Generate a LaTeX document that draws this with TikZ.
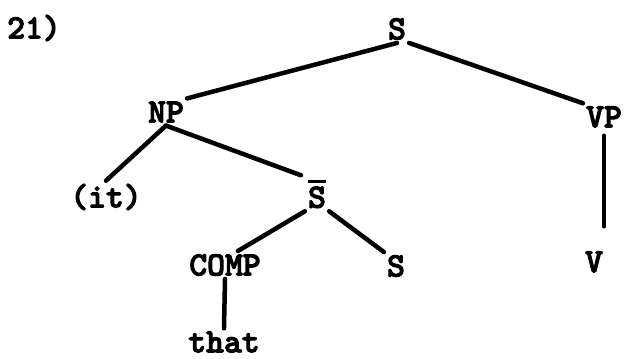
\documentclass[tikz,border=0pt]{standalone}
\usepackage{fontspec}
\usepackage{tikz}
\usetikzlibrary{calc}
\newfontfamily\catfont{lmmonolt10-bold.otf}[FakeBold=3]
\newcommand{\barred}[1]{\vbox{\hrule height 2.6pt\kern 4pt\hbox{#1}}}
\tikzset{
  cat/.style={inner sep=3pt, font=\fontsize{34}{38}\catfont},
  branch/.style={line width=4.5pt, line cap=round}
}

\begin{document}
\begin{tikzpicture}[x=1pt,y=-1pt]
        \useasboundingbox (0,0) rectangle (627,359);

        % Example number
        \node[cat] (num) at (34,28) {21)};

        % Categories
        \node[cat] (S) at (397,29) {S};
        \node[cat] (NP) at (166,112) {NP};
        \node[cat] (VP) at (604,117) {VP};
        \node[cat] (it) at (106,197) {(it)};
        \node[cat] (Sbar) at (317,194) {\barred{S}};
        \node[cat] (V) at (594,262) {V};
        \node[cat] (COMP) at (225,265) {COMP};
        \node[cat] (S2) at (396,266) {S};
        \node[cat] (that) at (224,342) {that};

          % Branches
          \draw[branch] (S.south) -- (NP.north east);
          \draw[branch] (S.south east) -- (VP.north west);
          \draw[branch] (NP.south) -- (it.north);
          \draw[branch,shorten >=4pt] (NP.south) -- (Sbar.north west);
          \draw[branch] (Sbar.south west) -- ($(COMP.north)!.33!(COMP.north east)$);
          \draw[branch] (Sbar.south east) -- (S2.north west);
          \draw[branch,shorten <=5pt,shorten >=22pt] (VP.south) -- (VP.south |- V.north);
          \draw[branch] (COMP.south) -- (that.north);

        \end{tikzpicture}
\end{document}
